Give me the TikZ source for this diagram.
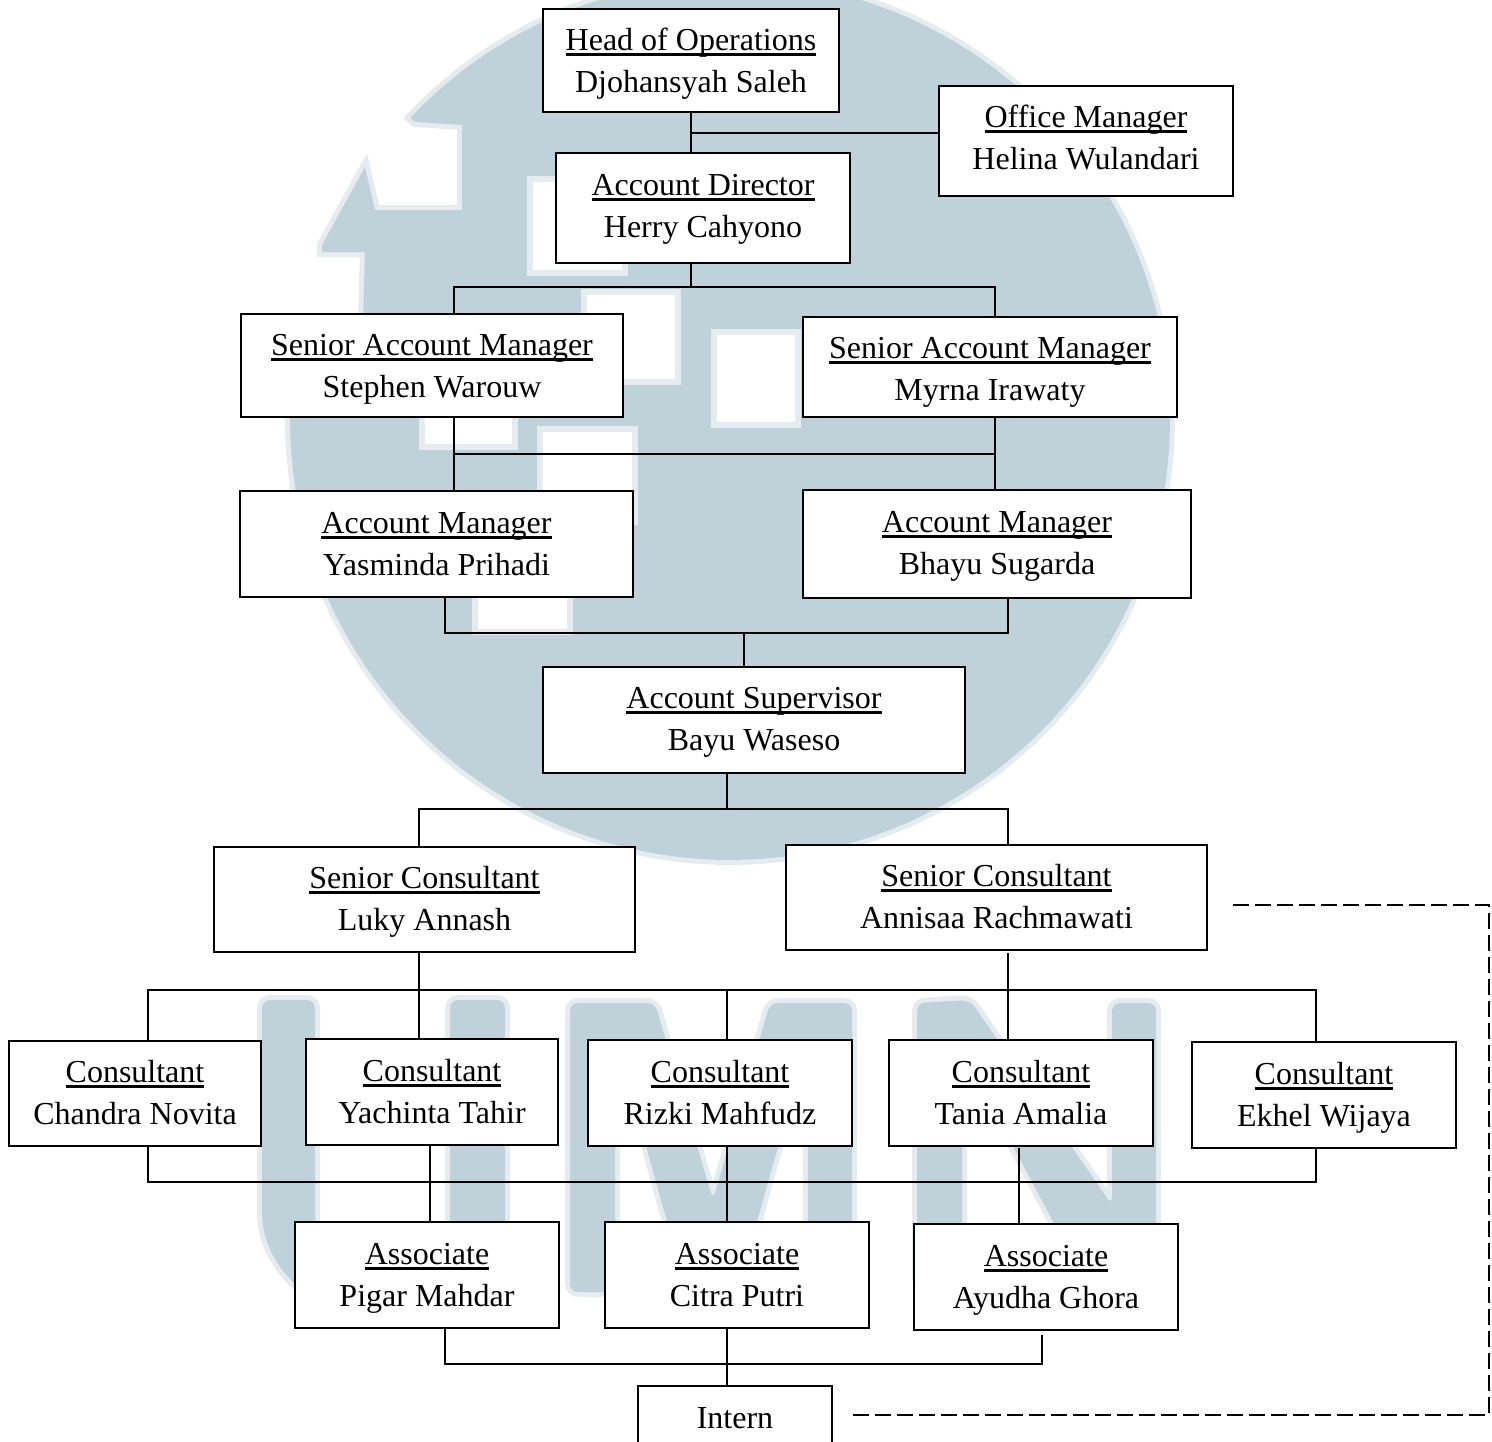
\documentclass[tikz,border=0pt]{standalone}
\usepackage{fontspec}
\setmainfont{Liberation Serif}
\definecolor{logo}{HTML}{BFD2DA}
\definecolor{halo}{HTML}{E4ECF0}
\newcommand\ulined[1]{\setbox0\hbox{#1}\leavevmode\rlap{\rule[-2.4pt]{\wd0}{1.1pt}}\box0}
% #1 name, #2-#5 x1 y1 x2 y2 in px, #6 text centre y in px, #7 content
\newcommand\orgnode[7]{%
  \pgfmathsetmacro\nw{(#4-#2)*0.5}%
  \pgfmathsetmacro\nh{(#5-#3)*0.5}%
  \pgfmathsetmacro\nr{((#3+#5)/2-#6)*0.5-6}%
  \node[orgbox,minimum width=\nw pt,minimum height=\nh pt] (#1) at ({(#2+#4)/2},{(#3+#5)/2})
    {\raisebox{\nr pt}[0pt][0pt]{\begin{tabular}{@{}c@{}}#7\end{tabular}}};}
\tikzset{
  orgbox/.style={draw=black,fill=white,line width=1.1pt,inner sep=0pt,outer sep=0pt,
    font=\fontsize{16}{21}\selectfont},
  link/.style={draw=black,line width=1pt,line cap=rect},
  dashlink/.style={draw=black,line width=1pt,dash pattern=on 8pt off 3pt},
  mark halo/.style={draw=halo,line width=5pt,line join=round,rounded corners=4pt},
  mark fill/.style={fill=logo,rounded corners=4pt},
  win/.style={fill=white,draw=halo,line width=3pt}
}
\begin{document}
\begin{tikzpicture}[x=0.5pt,y=-0.5pt]
\path[use as bounding box,clip] (0,0) rectangle (1492,1441);
\fill[white] (0,0) rectangle (1492,1441);
% watermark: disc
\def\disc{plot[domain=-136.6:187.9,samples=140,variable=\t] ({730+440*cos(\t)},{420+440*sin(\t)})
  -- (295,360) -- (363,320) -- (365,252) -- (322,252) -- (322,245) -- (365,167)
  -- (375,210) -- (462,210) -- (462,125) -- (415,122) -- cycle}
\draw[draw=halo,line width=5pt,line join=miter] \disc;
\fill[logo] \disc;
\draw[win] (530,179) rectangle (625,273);
\draw[win] (584,292) rectangle (678,382);
\draw[win] (714,332) rectangle (798,425);
\draw[win] (422,350) rectangle (515,447);
\draw[win] (540,429) rectangle (635,522);
\draw[win] (475,540) rectangle (570,632);
% watermark: letters
\def\letU{(262,1000) -- (315,1000) -- (315,1215) .. controls (315,1265) and (360,1285) .. (385,1285)
  .. controls (425,1285) and (450,1265) .. (450,1215) -- (450,1000) -- (505,1000) -- (505,1215)
  .. controls (505,1290) and (450,1318) .. (385,1318) .. controls (320,1318) and (262,1270) .. (262,1205) -- cycle}
\def\letM{(570,1003) -- (655,1003) -- (713,1200) -- (770,1003) -- (852,1003) -- (852,1300) -- (808,1300)
  -- (808,1040) -- (735,1300) -- (689,1300) -- (615,1035) -- (615,1292) -- (570,1292) -- cycle}
\def\letN{(917,1003) -- (970,1000) -- (1112,1205) -- (1112,1003) -- (1156,1003) -- (1156,1310) -- (1100,1310)
  -- (962,1050) -- (962,1285) -- (917,1285) -- cycle}
\foreach \lett in {\letU,\letM,\letN}{
  \draw[mark halo] \lett;
  \fill[mark fill] \lett;
}
% boxes
\orgnode{head}{543}{9}{839}{112}{60}{\ulined{Head of Operations}\\Djohansyah Saleh}
\orgnode{office}{939}{86}{1233}{196}{137}{\ulined{Office Manager}\\Helina Wulandari}
\orgnode{dir}{556}{153}{850}{263}{205}{\ulined{Account Director}\\Herry Cahyono}
\orgnode{sam1}{241}{314}{623}{417}{365}{\ulined{Senior Account Manager}\\Stephen Warouw}
\orgnode{sam2}{803}{317}{1177}{417}{368}{\ulined{Senior Account Manager}\\Myrna Irawaty}
\orgnode{am1}{240}{491}{633}{597}{543}{\ulined{Account Manager}\\Yasminda Prihadi}
\orgnode{am2}{803}{490}{1191}{598}{542}{\ulined{Account Manager}\\Bhayu Sugarda}
\orgnode{sup}{543}{667}{965}{773}{718}{\ulined{Account Supervisor}\\Bayu Waseso}
\orgnode{sc1}{214}{847}{635}{952}{898}{\ulined{Senior Consultant}\\Luky Annash}
\orgnode{sc2}{786}{845}{1207}{950}{896}{\ulined{Senior Consultant}\\Annisaa Rachmawati}
\orgnode{c1}{9}{1041}{261}{1146}{1092}{\ulined{Consultant}\\Chandra Novita}
\orgnode{c2}{306}{1039}{558}{1145}{1091}{\ulined{Consultant}\\Yachinta Tahir}
\orgnode{c3}{588}{1040}{852}{1146}{1092}{\ulined{Consultant}\\Rizki Mahfudz}
\orgnode{c4}{889}{1040}{1153}{1146}{1092}{\ulined{Consultant}\\Tania Amalia}
\orgnode{c5}{1192}{1042}{1456}{1148}{1094}{\ulined{Consultant}\\Ekhel Wijaya}
\orgnode{a1}{295}{1222}{559}{1328}{1274}{\ulined{Associate}\\Pigar Mahdar}
\orgnode{a2}{605}{1222}{869}{1328}{1274}{\ulined{Associate}\\Citra Putri}
\orgnode{a3}{914}{1224}{1178}{1330}{1276}{\ulined{Associate}\\Ayudha Ghora}
\orgnode{intern}{638}{1386}{832}{1450}{1417}{Intern}
% junctions
\coordinate (jOffice) at (691,133);
\coordinate (jDir) at (691,287);
\coordinate (jS1) at (454,287);
\coordinate (jS2) at (995,287);
\coordinate (jA1) at (454,454);
\coordinate (jA2) at (995,454);
\coordinate (jB1) at (445,633);
\coordinate (jB2) at (1008,633);
\coordinate (jB3) at (744,633);
\coordinate (jC) at (727,809);
\coordinate (jC1) at (419,809);
\coordinate (jC2) at (1008,809);
\coordinate (jD1) at (148,990);
\coordinate (jD2) at (419,990);
\coordinate (jD3) at (727,990);
\coordinate (jD4) at (1008,990);
\coordinate (jD5) at (1316,990);
\coordinate (jE1) at (148,1182);
\coordinate (jE5) at (1316,1182);
\coordinate (jF1) at (430,1182);
\coordinate (jF2) at (727,1182);
\coordinate (jF3) at (1019,1182);
\coordinate (jG1) at (445,1364);
\coordinate (jG2) at (727,1364);
\coordinate (jG3) at (1042,1364);
\coordinate (dashA) at (1233,905);
\coordinate (dashB) at (1489,905);
\coordinate (dashC) at (1489,1415);
\coordinate (dashD) at (850,1415);
% connectors
\draw[link] (head.south -| jOffice) -- (dir.north -| jOffice);
\draw[link] (jOffice) -- (jOffice -| office.west);
\draw[link] (dir.south -| jDir) -- (jDir);
\draw[link] (sam1.north -| jS1) -- (jS1) -- (jS2) -- (sam2.north -| jS2);
\draw[link] (sam1.south -| jA1) -- (am1.north -| jA1);
\draw[link] (sam2.south -| jA2) -- (am2.north -| jA2);
\draw[link] (jA1) -- (jA2);
\draw[link] (am1.south -| jB1) -- (jB1) -- (jB2) -- (am2.south -| jB2);
\draw[link] (jB3) -- (sup.north -| jB3);
\draw[link] (sup.south -| jC) -- (jC);
\draw[link] (sc1.north -| jC1) -- (jC1) -- (jC2) -- (sc2.north -| jC2);
\draw[link,line width=1.2pt] (c1.north -| jD1) -- (jD1) -- (jD5) -- (c5.north -| jD5);
\draw[link] (sc1.south -| jD2) -- (c2.north -| jD2);
\draw[link] (jD3) -- (c3.north -| jD3);
\draw[link,shorten <=2pt] (sc2.south -| jD4) -- (c4.north -| jD4);
\draw[link] (c1.south -| jE1) -- (jE1) -- (jE5) -- (c5.south -| jE5);
\draw[link] (c2.south -| jF1) -- (a1.north -| jF1);
\draw[link] (c3.south -| jF2) -- (a2.north -| jF2);
\draw[link,shorten <=1.5pt] (c4.south -| jF3) -- (a3.north -| jF3);
\draw[link,line width=1.3pt] (a1.south -| jG1) -- (jG1) -- (jG3) -- ([yshift=-3pt]a3.south -| jG3);
\draw[link] (a2.south -| jG2) -- (intern.north -| jG2);
\draw[dashlink] (dashA) -- (dashB) -- (dashC) -- (dashD);
\end{tikzpicture}
\end{document}
